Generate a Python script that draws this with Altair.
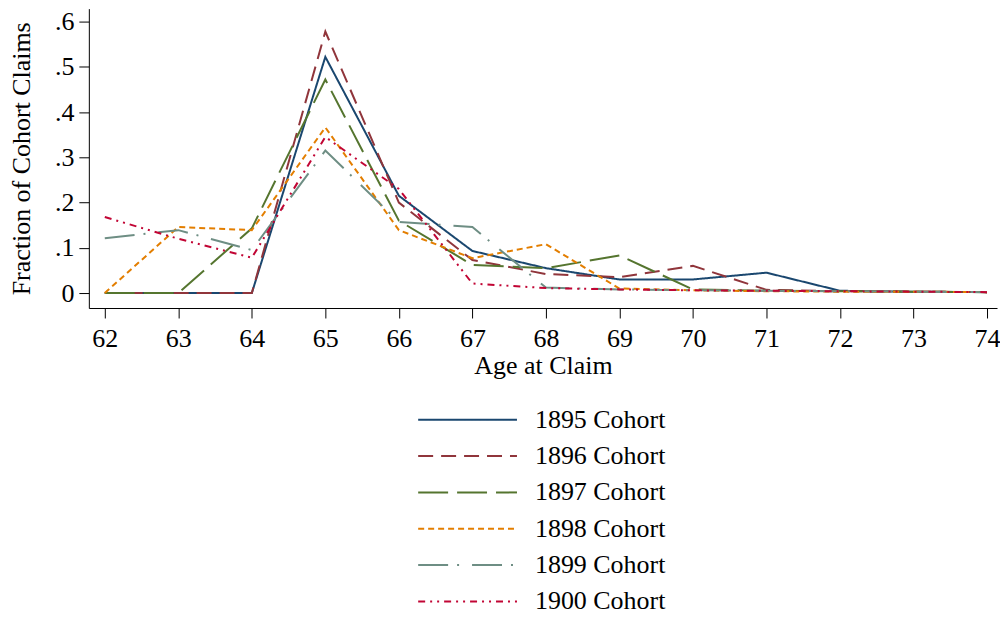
import altair as alt
import pandas as pd

ages = list(range(62, 75))
cohorts = ["1895", "1896", "1897", "1898", "1899", "1900"]

c1895 = [0, 0, 0, 0.522, 0.215, 0.093, 0.055, 0.030, 0.030, 0.045, 0.005, 0.003, 0.002]
c1896 = [0, 0, 0, 0.578, 0.200, 0.073, 0.042, 0.035, 0.060, 0.007, 0.004, 0.003, 0.002]
c1897 = [0, 0, 0.143, 0.472, 0.160, 0.062, 0.055, 0.083, 0.008, 0.005, 0.004, 0.003, 0.002]
c1898 = [0, 0.146, 0.139, 0.366, 0.139, 0.077, 0.108, 0.010, 0.006, 0.004, 0.003, 0.003, 0.002]
c1899 = [0.121, 0.139, 0.095, 0.315, 0.157, 0.146, 0.012, 0.008, 0.006, 0.005, 0.004, 0.003, 0.002]
c1900 = [0.168, 0.120, 0.078, 0.345, 0.230, 0.021, 0.011, 0.008, 0.006, 0.005, 0.004, 0.003, 0.002]
series = [c1895, c1896, c1897, c1898, c1899, c1900]

colors = ["#1a476f", "#90353b", "#55752f", "#e37e00", "#6e8e84", "#c10534"]
dashes = [[1, 0], [15, 8], [30, 9], [6, 4], [30, 9, 2, 13], [7, 5, 2, 5, 2, 5]]

y_ticks = [0, 0.1, 0.2, 0.3, 0.4, 0.5, 0.6]

labels = [c + " Cohort" for c in cohorts]
rows = []
for lab, vals in zip(labels, series):
    for a, v in zip(ages, vals):
        rows.append({"age": a, "frac": v, "cohort": lab})
df = pd.DataFrame(rows)

leg_df = pd.DataFrame({"cohort": labels, "idx": list(range(len(labels)))})

FONT = "Liberation Serif"
color_scale = alt.Scale(domain=labels, range=colors)
dash_scale = alt.Scale(domain=labels, range=dashes)

lines = alt.Chart(df).mark_line(strokeWidth=2).encode(
    x=alt.X("age:Q",
            scale=alt.Scale(domain=[61.783, 74.136], nice=False, zero=False),
            axis=alt.Axis(values=ages, format="d", title="Age at Claim", grid=False,
                          tickSize=10, labelPadding=8, titlePadding=1)),
    y=alt.Y("frac:Q",
            scale=alt.Scale(domain=[-0.0331, 0.6287], nice=False, zero=False),
            axis=alt.Axis(values=y_ticks,
                          labelExpr="datum.value == 0 ? '0' : replace(format(datum.value, '.1f'), '0.', '.')",
                          title="Fraction of Cohort Claims", grid=False,
                          tickSize=10, labelPadding=5, titlePadding=20)),
    color=alt.Color("cohort:N", scale=color_scale, legend=None),
    strokeDash=alt.StrokeDash("cohort:N", scale=dash_scale, legend=None),
    order=alt.Order("cohort:N"),
)

# legend rows placed below the plot area through an independent y scale
leg_y = alt.Y("idx:Q", axis=None,
              scale=alt.Scale(domain=[-11.319, -3.077], reverse=True, nice=False, zero=False))

leg_rules = alt.Chart(leg_df).mark_rule(strokeWidth=2).encode(
    y=leg_y,
    x=alt.value(330), x2=alt.value(429),
    color=alt.Color("cohort:N", scale=color_scale, legend=None),
    strokeDash=alt.StrokeDash("cohort:N", scale=dash_scale, legend=None),
)
leg_text = alt.Chart(leg_df).mark_text(align="left", baseline="middle", font=FONT,
                                       fontSize=26, color="black").encode(
    y=leg_y,
    x=alt.value(447), text="cohort:N")

legend = alt.layer(leg_rules, leg_text)

chart = alt.layer(lines, legend).resolve_scale(
    y="independent", color="shared", strokeDash="shared"
).properties(
    width=910, height=300,
    padding={"left": 0, "top": 0, "right": 0, "bottom": 0}
).configure_view(stroke=None).configure_axis(
    labelFont=FONT, titleFont=FONT, labelFontSize=26, titleFontSize=26,
    labelColor="black", titleColor="black", titleFontWeight="normal",
    domainColor="black", tickColor="black", domainWidth=1, tickWidth=1,
)

chart.save("out.html", embed_options={"renderer": "svg", "actions": False})
